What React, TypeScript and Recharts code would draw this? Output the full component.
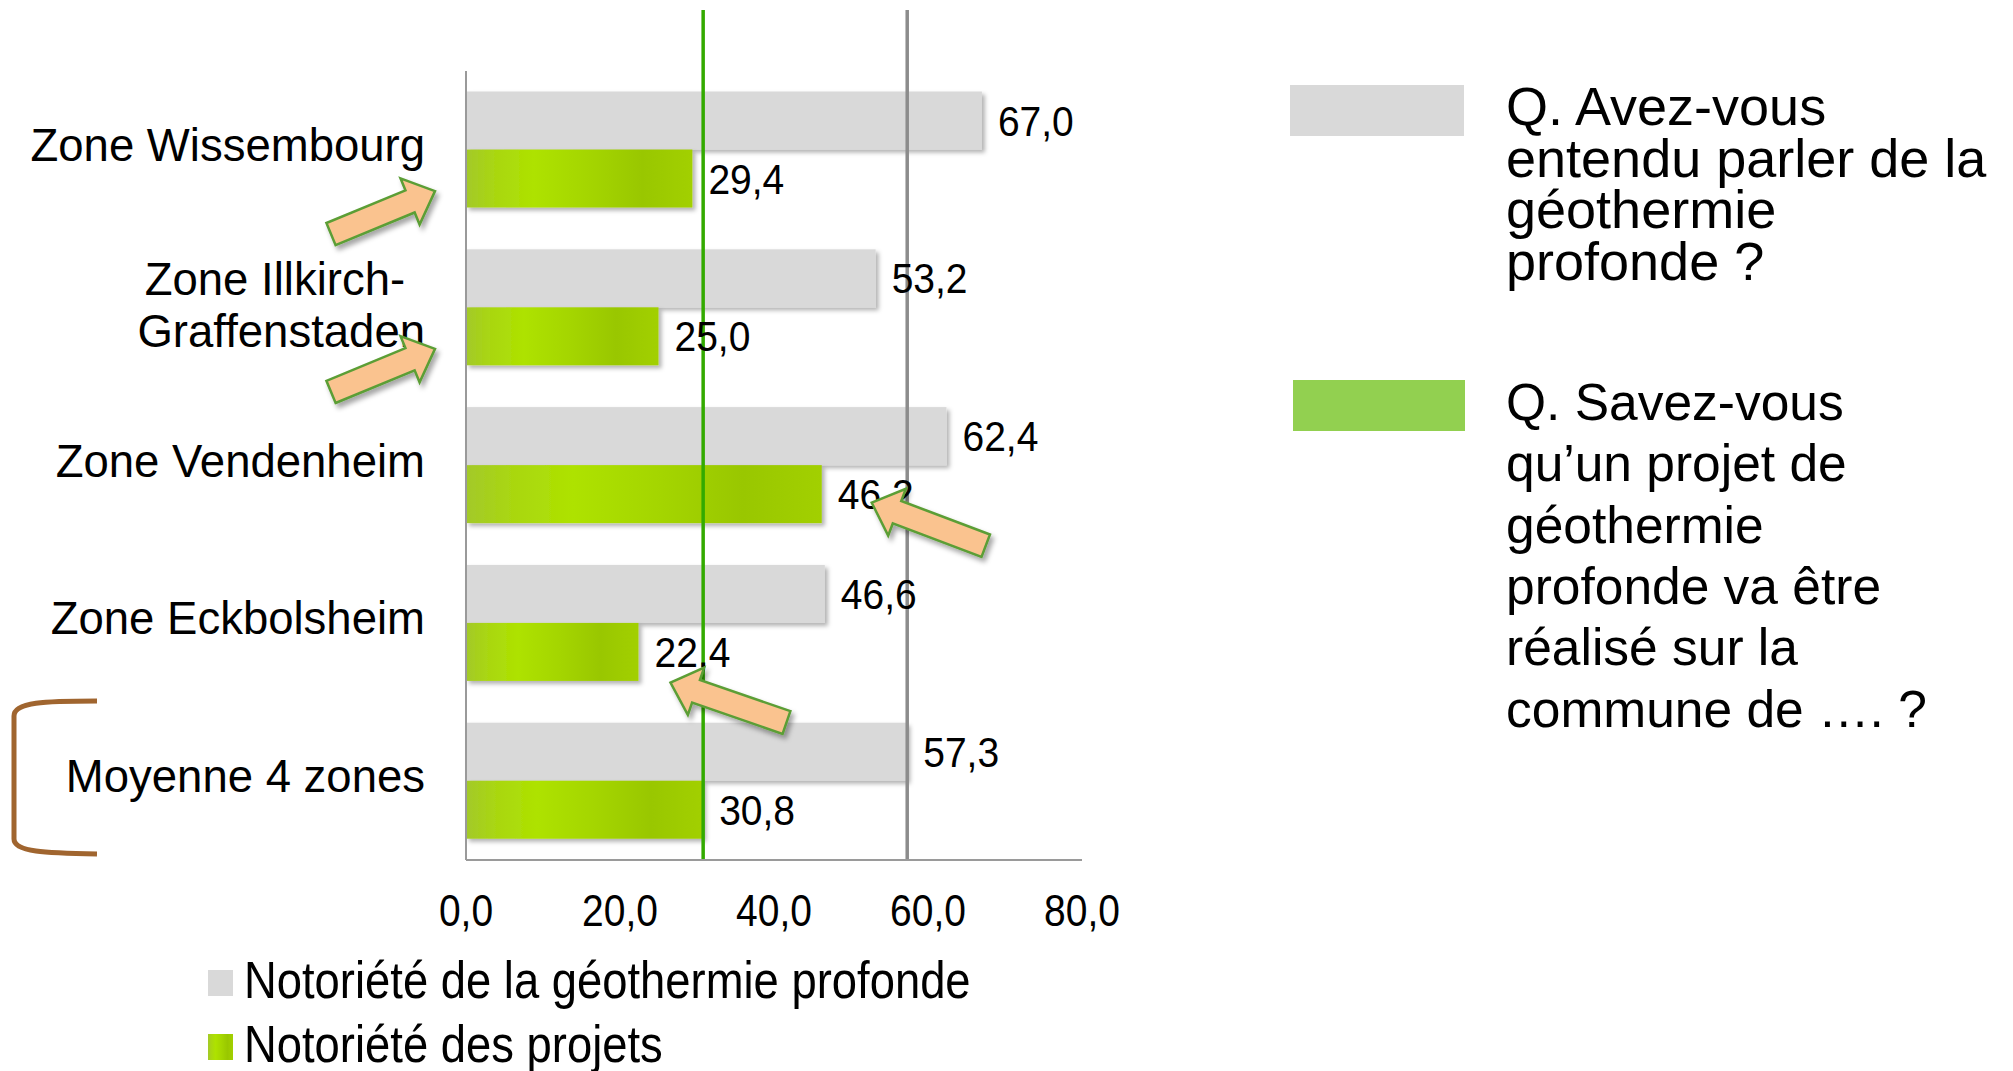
import React from 'react';
import { BarChart, Bar, XAxis, YAxis, ReferenceLine, LabelList, Legend } from 'recharts';

// ---------- data ----------
const categories = [
  'Zone Wissembourg',
  'Zone Illkirch-\nGraffenstaden',
  'Zone Vendenheim',
  'Zone Eckbolsheim',
  'Moyenne 4 zones',
];
const notorieteGeothermie = [67.0, 53.2, 62.4, 46.6, 57.3];
const notorieteProjets = [29.4, 25.0, 46.2, 22.4, 30.8];
const xTicks = [0, 20, 40, 60, 80];
const seriesNames = ['Notoriété de la géothermie profonde', 'Notoriété des projets'];
const questionGeothermie = ['Q. Avez-vous', 'entendu parler de la', 'géothermie', 'profonde ?'];
const questionProjets = [
  'Q. Savez-vous',
  'qu’un projet de',
  'géothermie',
  'profonde va être',
  'réalisé sur la',
  'commune de …. ?',
];

const data = categories.map((name, i) => ({
  name,
  geothermie: notorieteGeothermie[i],
  projets: notorieteProjets[i],
}));
const avgIndex = categories.length - 1;

// ---------- layout ----------
const W = 2013;
const H = 1071;
const PLOT = { left: 466, top: 71, right: 1082, bottom: 860 };
const X_MAX = 80;
const CAT_GAP = 0.13;
const FONT = '"Liberation Sans", Arial, Helvetica, sans-serif';

const xPx = (v: number) => PLOT.left + (v / X_MAX) * (PLOT.right - PLOT.left);
const bandH = (PLOT.bottom - PLOT.top) / categories.length;
const barH = (bandH * (1 - 2 * CAT_GAP)) / 2;
const greenCenter = (i: number) => PLOT.top + i * bandH + bandH * CAT_GAP + barH * 1.5;

const fmt = (v: number) => v.toFixed(1).replace('.', ',');

let measureCtx: any = null;
const measure = (t: string, font: string) => {
  if (!measureCtx) measureCtx = document.createElement('canvas').getContext('2d');
  measureCtx.font = font;
  return measureCtx.measureText(t).width;
};

// text drawn at (x, y) baseline, optionally stretched vertically
const StretchText = ({ x, y, sy = 1, fs, anchor = 'start', children }: any) => (
  <text
    transform={`translate(${x} ${y}) scale(1 ${sy})`}
    x={0}
    y={0}
    textAnchor={anchor}
    fontSize={fs}
    fontFamily={FONT}
    fill="#000"
  >
    {children}
  </text>
);

// ---------- custom renderers ----------
const CAT_FS = 45.5;
const CategoryTick = (props: any) => {
  const { x, y, payload } = props;
  const lines = String(payload.value).split('\n');
  if (lines.length === 1) {
    return (
      <StretchText x={x} y={y + 11} fs={CAT_FS} anchor="end">
        {lines[0]}
      </StretchText>
    );
  }
  const font = `${CAT_FS}px ${FONT}`;
  // wrapped lines are centred as a block, a wrapped line keeps its trailing space
  const widths = lines.map((l, i) => measure(i < lines.length - 1 ? l + ' ' : l, font));
  const maxW = Math.max(...widths);
  const cx = x - maxW / 2;
  const lh = 52;
  return (
    <g>
      {lines.map((l, i) => (
        <StretchText
          key={i}
          x={cx - widths[i] / 2}
          y={y + 13 + (i - (lines.length - 1) / 2) * lh}
          fs={CAT_FS}
        >
          {l}
        </StretchText>
      ))}
    </g>
  );
};

const ValueTick = (props: any) => {
  const { x, y, payload } = props;
  return (
    <StretchText x={x} y={y + 66} fs={39} sy={1.15} anchor="middle">
      {fmt(payload.value)}
    </StretchText>
  );
};

const ValueLabel = (props: any) => {
  const { x, y, width, height, value } = props;
  return (
    <StretchText x={x + width + 16} y={y + height / 2 + 15} fs={39} sy={1.09}>
      {fmt(value)}
    </StretchText>
  );
};

const ShadowBar = (props: any) => {
  const { x, y, width, height, fill } = props;
  return <rect x={x} y={y} width={width} height={height} fill={fill} filter="url(#barShadow)" />;
};

const extendedLine = (color: string) => (p: any) => {
  const bottom = Math.max(p.y1, p.y2);
  return <line x1={p.x1} x2={p.x2} y1={10} y2={bottom} stroke={color} strokeWidth={3.5} />;
};

const BottomLegend = (props: any) => {
  const { payload } = props;
  return (
    <svg width={900} height={110} style={{ display: 'block', overflow: 'visible' }}>
      {(payload || []).map((entry: any, i: number) => (
        <g key={i}>
          <rect x={0} y={i * 64} width={25} height={26} fill={entry.color} />
          <StretchText x={36} y={i * 64 + 28} fs={45.4} sy={1.15}>
            {entry.value}
          </StretchText>
        </g>
      ))}
    </svg>
  );
};

// ---------- annotation overlay ----------
function arrowPath(tip: number[], tail: number[], shaftW = 24, headW = 50, headL = 27) {
  const dx = tip[0] - tail[0];
  const dy = tip[1] - tail[1];
  const L = Math.hypot(dx, dy);
  const ux = dx / L;
  const uy = dy / L;
  const nx = -uy;
  const ny = ux;
  const bx = tip[0] - ux * headL;
  const by = tip[1] - uy * headL;
  const p = (px: number, py: number, s: number) => `${px + nx * s},${py + ny * s}`;
  return [
    p(tail[0], tail[1], shaftW / 2),
    p(bx, by, shaftW / 2),
    p(bx, by, headW / 2),
    `${tip[0]},${tip[1]}`,
    p(bx, by, -headW / 2),
    p(bx, by, -shaftW / 2),
    p(tail[0], tail[1], -shaftW / 2),
  ].join(' ');
}

// arrows anchored on the green bars: [category, anchor value, tip offset, tail offset]
const arrowSpecs: [number, number, number[], number[]][] = [
  [0, 0, [-31, 12], [-135, 55]],
  [1, 0, [-31, 12], [-135, 55]],
  [2, notorieteProjets[2], [50, 8], [164, 51]],
  [3, notorieteProjets[3], [32, 30], [148, 70]],
];

const Overlay = () => (
  <svg
    width={W}
    height={H}
    style={{ position: 'absolute', left: 0, top: 0, pointerEvents: 'none' }}
  >
    <defs>
      <filter id="arrowShadow" x="-20%" y="-20%" width="140%" height="150%">
        <feDropShadow dx="3" dy="4" stdDeviation="2.5" floodColor="#000" floodOpacity="0.35" />
      </filter>
    </defs>
    {arrowSpecs.map(([cat, v, tipO, tailO], i) => {
      const ax = xPx(v);
      const ay = greenCenter(cat);
      return (
        <polygon
          key={i}
          points={arrowPath([ax + tipO[0], ay + tipO[1]], [ax + tailO[0], ay + tailO[1]])}
          fill="#FAC38F"
          stroke="#5B9E36"
          strokeWidth={2.5}
          strokeLinejoin="miter"
          filter="url(#arrowShadow)"
        />
      );
    })}
    {/* bracket around the average row */}
    <path
      d="M97,701 C45,701 14,702 14,716 L14,839 C14,852 45,853 97,854"
      fill="none"
      stroke="#A0652F"
      strokeWidth={5}
    />
    {/* right-hand question legend */}
    <rect x={1290} y={85} width={174} height={51} fill="#D9D9D9" />
    <text fontSize={54} fontFamily={FONT} fill="#000">
      {questionGeothermie.map((l, i) => (
        <tspan key={i} x={1506} y={125 + i * 51.5}>
          {l}
        </tspan>
      ))}
    </text>
    <rect x={1293} y={380} width={172} height={51} fill="#92D050" />
    <text fontSize={51.5} fontFamily={FONT} fill="#000">
      {questionProjets.map((l, i) => (
        <tspan key={i} x={1506} y={420 + i * 61.3}>
          {l}
        </tspan>
      ))}
    </text>
  </svg>
);

export default function App() {
  return (
    <div style={{ position: 'absolute', left: 0, top: 0, width: W, height: H, background: '#fff' }}>
      <BarChart
        width={W}
        height={H}
        data={data}
        layout="vertical"
        margin={{ top: PLOT.top, right: W - PLOT.right, bottom: 0, left: 0 }}
        barCategoryGap={`${CAT_GAP * 100}%`}
        barGap={0}
      >
        <defs>
          <linearGradient id="greenGrad" x1="0" y1="0" x2="1" y2="0">
            <stop offset="0%" stopColor="#A3C92A" />
            <stop offset="12%" stopColor="#A9D612" />
            <stop offset="30%" stopColor="#AEE200" />
            <stop offset="55%" stopColor="#A4D500" />
            <stop offset="78%" stopColor="#99C700" />
            <stop offset="100%" stopColor="#A2D000" />
          </linearGradient>
          <filter id="barShadow" x="-5%" y="-10%" width="115%" height="135%">
            <feDropShadow dx="3" dy="3" stdDeviation="2" floodColor="#000" floodOpacity="0.3" />
          </filter>
        </defs>
        <XAxis
          type="number"
          domain={[0, X_MAX]}
          ticks={xTicks}
          height={H - PLOT.bottom}
          tickLine={false}
          tickSize={0}
          tickMargin={0}
          axisLine={{ stroke: '#9A9A9A', strokeWidth: 2 }}
          tick={<ValueTick />}
          interval={0}
        />
        <YAxis
          type="category"
          dataKey="name"
          width={PLOT.left}
          tickLine={false}
          tickSize={0}
          tickMargin={41}
          axisLine={{ stroke: '#9A9A9A', strokeWidth: 2 }}
          tick={<CategoryTick />}
          interval={0}
        />
        <Bar
          dataKey="geothermie"
          name={seriesNames[0]}
          fill="#D9D9D9"
          shape={<ShadowBar />}
          isAnimationActive={false}
        >
          <LabelList dataKey="geothermie" content={<ValueLabel />} />
        </Bar>
        <Bar
          dataKey="projets"
          name={seriesNames[1]}
          fill="url(#greenGrad)"
          shape={<ShadowBar />}
          isAnimationActive={false}
        >
          <LabelList dataKey="projets" content={<ValueLabel />} />
        </Bar>
        <ReferenceLine
          x={notorieteProjets[avgIndex]}
          stroke="#33AA00"
          strokeWidth={3.5}
          shape={extendedLine('#33AA00')}
        />
        <ReferenceLine
          x={notorieteGeothermie[avgIndex]}
          stroke="#8C8C8C"
          strokeWidth={3.5}
          shape={extendedLine('#8C8C8C')}
        />
        <Legend
          content={<BottomLegend />}
          layout="vertical"
          align="center"
          verticalAlign="middle"
          wrapperStyle={{ position: 'absolute', left: 208, top: 970, width: 900, height: 110 }}
        />
      </BarChart>
      <Overlay />
    </div>
  );
}
